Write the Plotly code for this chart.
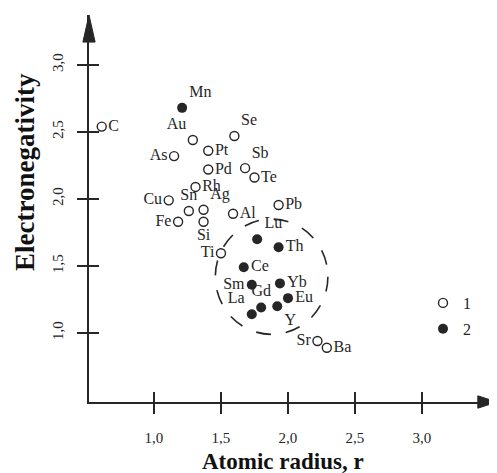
import plotly.graph_objects as go

# ---- data ----
open_names = ["C", "Au", "Se", "Pt", "As", "Pd", "Sb", "Te", "Rh", "Cu", "Sn", "Ag",
              "Al", "Pb", "Fe", "Si", "Ti", "Sr", "Ba"]
open_r = [0.61, 1.29, 1.60, 1.405, 1.15, 1.405, 1.68, 1.75, 1.31, 1.11, 1.26, 1.37,
          1.59, 1.93, 1.18, 1.37, 1.50, 2.22, 2.29]
open_en = [2.54, 2.44, 2.47, 2.36, 2.32, 2.22, 2.23, 2.16, 2.09, 1.99, 1.91, 1.92,
           1.89, 1.955, 1.83, 1.83, 1.595, 0.94, 0.89]
open_pos = ["middle right", "top left", "top right", "middle right", "middle left",
            "middle right", "top right", "middle right", "middle right", "middle left",
            "top center", "top right", "middle right", "middle right", "middle left",
            "bottom center", "middle left", "middle left", "middle right"]

filled_names = ["Mn", "Lu", "Th", "Ce", "Sm", "Yb", "Eu", "Gd", "Y", "La"]
filled_r = [1.21, 1.77, 1.93, 1.67, 1.73, 1.94, 2.00, 1.80, 1.92, 1.73]
filled_en = [2.68, 1.70, 1.64, 1.49, 1.36, 1.37, 1.26, 1.19, 1.20, 1.14]
filled_pos = ["top right", "top right", "middle right", "middle right", "middle left",
              "middle right", "middle right", "top center", "bottom right", "top left"]

legend_names = ["1", "2"]

x_ticks = [1.0, 1.5, 2.0, 2.5, 3.0]
x_ticktext = ["1,0", "1,5", "2,0", "2,5", "3,0"]
y_ticks = [1.0, 1.5, 2.0, 2.5, 3.0]
y_ticktext = ["1,0", "1,5", "2,0", "2,5", "3,0"]

# cluster circle (rare-earth group)
cluster_center = (1.878, 1.42)
cluster_radius = (0.42, 0.43)

X_RANGE = [0.515, 3.56]
Y_RANGE = [0.485, 3.373]

INK = "#262626"
SERIF = "Liberation Serif, Times New Roman, serif"

# page is offset by the 8px body margin; plot area is 408 x 387 px
PW, PH = 408, 387

fig = go.Figure()

fig.add_trace(go.Scatter(
    x=open_r, y=open_en, text=open_names, textposition=open_pos,
    mode="markers+text", name=legend_names[0],
    marker=dict(symbol="circle-open", size=9, color=INK, line=dict(width=1.4, color=INK)),
    textfont=dict(family=SERIF, size=16, color=INK),
    legendgroup="a",
))
fig.add_trace(go.Scatter(
    x=filled_r, y=filled_en, text=filled_names, textposition=filled_pos,
    mode="markers+text", name=legend_names[1],
    marker=dict(symbol="circle", size=10, color=INK),
    textfont=dict(family=SERIF, size=16, color=INK),
    legendgroup="b",
))

# dashed cluster circle
cx, cy = cluster_center
rx, ry = cluster_radius
fig.add_shape(type="circle", xref="x", yref="y",
              x0=cx - rx, x1=cx + rx, y0=cy - ry, y1=cy + ry,
              line=dict(color=INK, width=1.6, dash="longdash"))

# inner halves of the crossing tick marks
for v in x_ticks:
    fig.add_shape(type="line", xref="x", yref="paper", x0=v, x1=v, y0=0, y1=10 / PH,
                  line=dict(color=INK, width=2))
for v in y_ticks:
    fig.add_shape(type="line", xref="paper", yref="y", x0=0, x1=10 / PW, y0=v, y1=v,
                  line=dict(color=INK, width=2))

# arrow heads
fig.add_shape(type="path", xref="paper", yref="paper",
              path="M 1.0,0 L 0.953,0.016 L 0.953,-0.016 Z",
              fillcolor=INK, line=dict(color=INK, width=1))
fig.add_shape(type="path", xref="paper", yref="paper",
              path="M 0,1.0 L 0.015,0.93 L -0.015,0.93 Z",
              fillcolor=INK, line=dict(color=INK, width=1))

# axis titles
fig.add_annotation(text="<b>Atomic radius, r</b>", xref="paper", yref="paper",
                   x=(283 - 89) / PW, y=(402 - 461) / PH, showarrow=False,
                   font=dict(family=SERIF, size=23, color="#111"),
                   xanchor="center", yanchor="middle")
fig.add_annotation(text="<b>Electronegativity</b>", xref="paper", yref="paper",
                   x=(25 - 89) / PW, y=(402 - 172) / PH, showarrow=False, textangle=-90,
                   font=dict(family=SERIF, size=27, color="#111"),
                   xanchor="center", yanchor="middle")

fig.update_xaxes(range=X_RANGE, showgrid=False, zeroline=False,
                 showline=True, linecolor=INK, linewidth=2,
                 tickvals=x_ticks, ticktext=x_ticktext,
                 ticks="outside", ticklen=10, tickwidth=2, tickcolor=INK,
                 ticklabelstandoff=11,
                 tickfont=dict(family=SERIF, size=15, color=INK))
fig.update_yaxes(range=Y_RANGE, showgrid=False, zeroline=False,
                 showline=True, linecolor=INK, linewidth=2,
                 tickvals=y_ticks, ticktext=y_ticktext, tickangle=-90,
                 ticks="outside", ticklen=10, tickwidth=2, tickcolor=INK,
                 ticklabelstandoff=8,
                 tickfont=dict(family=SERIF, size=15, color=INK))

fig.update_layout(
    width=489, height=465,
    margin=dict(l=81, r=0, t=7, b=71),
    paper_bgcolor="white", plot_bgcolor="white",
    showlegend=True,
    legend=dict(x=(423 - 89) / PW, y=(402 - 286) / PH, xanchor="left", yanchor="top",
                font=dict(family=SERIF, size=16, color=INK),
                bgcolor="rgba(0,0,0,0)", tracegroupgap=2, traceorder="grouped"),
)

fig.write_html("out.html")
